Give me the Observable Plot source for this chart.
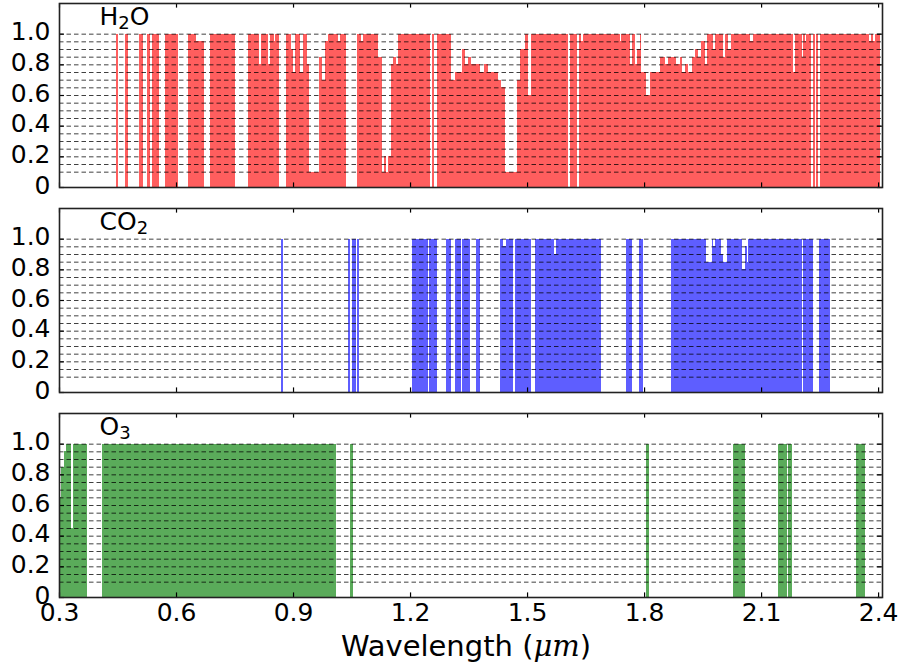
<!DOCTYPE html>
<html>
<head>
<meta charset="utf-8">
<script src="https://cdn.jsdelivr.net/npm/d3@7"></script>
<script src="https://cdn.jsdelivr.net/npm/@observablehq/plot@0.6"></script>
<style>
  body { margin: 0; background: #fff; }
  #chart svg { display: block; }
</style>
</head>
<body>
<div id="chart"></div>
<script>
// ---- data: each band is [start wavelength (µm), end wavelength (µm), value] ----
const molecules = ["H2O", "CO2", "O3"];
const panelLabels = ["H₂O", "CO₂", "O₃"];
const panelColors = ["#ff5e5e", "#5e5eff", "#5aab5a"];

const h2oBands = [
  [0.445,0.452,1],[0.469,0.476,1],[0.505,0.515,1],[0.526,0.533,1],[0.539,0.556,1],
  [0.571,0.605,1],[0.631,0.651,1],[0.651,0.672,0.95],[0.686,0.751,1],[0.785,0.812,1],
  [0.812,0.819,0.8],[0.819,0.835,1],[0.835,0.842,0.8],[0.842,0.851,1],[0.851,0.855,0.95],
  [0.855,0.865,1],[0.881,0.896,1],[0.896,0.900,0.9],[0.900,0.906,0.75],[0.906,0.919,1],
  [0.919,0.926,0.75],[0.926,0.936,1],[0.936,0.941,0.8],[0.941,0.967,0.1],[0.967,0.975,0.85],
  [0.975,0.981,0.7],[0.981,0.990,0.95],[0.990,1.015,1],[1.015,1.020,0.95],[1.020,1.037,1],
  [1.064,1.075,1],[1.075,1.080,0.95],[1.080,1.118,1],[1.118,1.127,0.85],[1.127,1.133,0.1],
  [1.133,1.139,0.2],[1.139,1.144,0.1],[1.144,1.151,0.2],[1.151,1.156,0.8],[1.156,1.165,0.85],
  [1.165,1.169,0.8],[1.169,1.251,1],[1.256,1.261,1],[1.268,1.306,1],[1.306,1.315,0.7],
  [1.315,1.332,0.75],[1.332,1.340,0.9],[1.340,1.349,0.8],[1.349,1.357,0.85],[1.357,1.379,0.8],
  [1.379,1.389,0.75],[1.389,1.400,0.8],[1.400,1.426,0.75],[1.426,1.434,0.7],[1.434,1.443,0.65],
  [1.443,1.473,0.1],[1.473,1.481,0.7],[1.481,1.494,0.9],[1.494,1.503,1],[1.503,1.509,0.6],
  [1.509,1.605,1],[1.610,1.629,1],[1.633,1.639,1],[1.639,1.644,0.95],[1.644,1.738,1],
  [1.738,1.742,0.95],[1.742,1.763,1],[1.763,1.768,0.8],[1.768,1.778,1],[1.778,1.783,0.8],
  [1.783,1.789,0.9],[1.789,1.793,1],[1.793,1.806,0.75],[1.806,1.816,0.6],[1.816,1.840,0.75],
  [1.840,1.853,0.85],[1.853,1.862,0.8],[1.862,1.883,0.85],[1.883,1.892,0.8],[1.892,1.896,0.85],
  [1.896,1.904,0.75],[1.904,1.913,0.8],[1.913,1.924,0.75],[1.924,1.930,0.85],[1.930,1.938,0.9],
  [1.938,1.947,0.85],[1.947,1.956,0.95],[1.956,1.961,0.8],[1.961,1.977,1],[1.977,1.981,0.9],
  [1.981,2.003,1],[2.003,2.007,0.85],[2.007,2.015,1],[2.015,2.024,0.9],[2.024,2.071,1],
  [2.071,2.080,0.95],[2.080,2.182,1],[2.182,2.188,0.75],[2.188,2.204,1],[2.204,2.208,0.85],
  [2.208,2.212,1],[2.212,2.216,0.95],[2.216,2.229,1],[2.233,2.238,1],[2.242,2.246,1],
  [2.252,2.377,1],[2.377,2.381,0.95],[2.381,2.387,1],[2.387,2.391,0.95],[2.391,2.404,1]
];

const co2Bands = [
  [0.870,0.875,1],[1.041,1.045,1],[1.050,1.061,1],[1.064,1.069,1],[1.205,1.245,1],
  [1.249,1.269,1],[1.291,1.304,1],[1.315,1.330,1],[1.334,1.353,1],[1.368,1.379,1],
  [1.430,1.439,1],[1.439,1.445,0.95],[1.445,1.464,1],[1.468,1.511,1],[1.520,1.569,1],
  [1.569,1.574,0.9],[1.574,1.689,1],[1.753,1.769,1],[1.787,1.797,1],[1.868,1.960,1],
  [1.960,1.973,0.85],[1.973,1.977,1],[1.977,1.981,0.95],[1.981,1.998,1],[1.998,2.003,0.9],
  [2.003,2.013,0.85],[2.013,2.050,1],[2.050,2.058,0.8],[2.058,2.063,0.95],[2.063,2.067,0.85],
  [2.067,2.204,1],[2.208,2.233,1],[2.249,2.272,1],[2.272,2.276,1]
];

const o3Bands = [
  [0.300,0.306,0.65],[0.306,0.312,0.85],[0.312,0.319,0.95],[0.319,0.332,1],[0.332,0.336,0.45],
  [0.336,0.372,1],[0.411,1.011,1],[1.045,1.055,1],[1.806,1.813,1],[2.028,2.058,1],
  [2.144,2.167,1],[2.169,2.178,1],[2.343,2.366,1]
];

const xTicks = [0.3, 0.6, 0.9, 1.2, 1.5, 1.8, 2.1, 2.4];
const yTicks = [0, 0.2, 0.4, 0.6, 0.8, 1.0];
const gridLevels = [0.1,0.15,0.2,0.25,0.3,0.35,0.4,0.45,0.5,0.55,0.6,0.65,0.7,0.75,0.8,0.85,0.9,0.95,1.0];
const xLabel = "Wavelength (μm)";

// ---- build table ----
const rows = [];
[h2oBands, co2Bands, o3Bands].forEach((bands, i) =>
  bands.forEach(([x1, x2, v]) => rows.push({molecule: molecules[i], x1, x2, v}))
);
const labelRows = molecules.map((m, i) => ({molecule: m, label: panelLabels[i]}));

const xMin = 0.3, xMax = 2.41, yMax = 1.2;

const chart = Plot.plot({
  width: 900,
  height: 668,
  marginLeft: 59,
  marginRight: 18,
  marginTop: 3,
  marginBottom: 71,
  x: {domain: [xMin, xMax]},
  y: {domain: [0, yMax]},
  fy: {domain: molecules, paddingInner: 21 / 205, paddingOuter: 0, axis: null},
  color: {domain: molecules, range: panelColors},
  style: {fontFamily: "DejaVu Sans", background: "white", color: "black"},
  marks: [
    Plot.rect(rows, {x1: "x1", x2: "x2", y1: 0, y2: "v", fill: "molecule", fy: "molecule", shapeRendering: "crispEdges"}),
    Plot.ruleY(gridLevels, {stroke: "#000", strokeWidth: 1, strokeDasharray: "4.5,3", strokeOpacity: 0.75}),
    // inward tick marks on all four sides
    Plot.ruleX(xTicks, {y1: 0, y2: yMax * 0.025, stroke: "#000", strokeWidth: 1.2}),
    Plot.ruleX(xTicks, {y1: yMax, y2: yMax * 0.975, stroke: "#000", strokeWidth: 1.2}),
    Plot.ruleY(yTicks, {x1: xMin, x2: xMin + (xMax - xMin) * 0.006, stroke: "#000", strokeWidth: 1.2}),
    Plot.ruleY(yTicks, {x1: xMax, x2: xMax - (xMax - xMin) * 0.006, stroke: "#000", strokeWidth: 1.2}),
    Plot.frame({stroke: "#222", strokeWidth: 1.6}),
    Plot.axisX({ticks: xTicks, tickFormat: d3.format(".1f"), tickSize: 0, tickPadding: 6, fontSize: 25, label: null}),
    Plot.axisY({ticks: yTicks, tickFormat: d => d === 0 ? "0" : d.toFixed(1), tickSize: 0, tickPadding: 9, fontSize: 25, dy: -2, label: null}),
    Plot.text(labelRows, {fy: "molecule", text: "label", frameAnchor: "top-left", dx: 40, dy: 4, lineAnchor: "top", textAnchor: "start", fontSize: 25}),
    Plot.text([{molecule: "O3"}], {fy: "molecule", text: () => xLabel, frameAnchor: "bottom", dx: -5, dy: 58, fontSize: 29})
  ]
});

const svgSel = d3.select(chart.tagName.toLowerCase() === "svg" ? chart : chart.querySelector("svg"));

// italic math-style µm in the axis label
svgSel.selectAll("text").filter(function () { return this.textContent === xLabel; }).each(function () {
  const t = d3.select(this);
  t.text(null);
  t.append("tspan").text("Wavelength (");
  t.append("tspan").attr("font-family", "DejaVu Serif").attr("font-style", "italic").text("μm");
  t.append("tspan").text(")");
});

// math-style subscripts in the panel labels
const subDigits = {"₂": "2", "₃": "3"};
svgSel.selectAll("text").filter(function () { return panelLabels.includes(this.textContent); }).each(function () {
  const t = d3.select(this);
  const s = t.text();
  t.text(null);
  let sub = false;
  for (const ch of s) {
    if (subDigits[ch]) {
      t.append("tspan").attr("font-size", "72%").attr("dy", "0.2em").text(subDigits[ch]);
      sub = true;
    } else {
      const ts = t.append("tspan").text(ch);
      if (sub) { ts.attr("dy", "-0.14em"); sub = false; }
    }
  }
});

document.getElementById("chart").appendChild(chart);
</script>
</body>
</html>
